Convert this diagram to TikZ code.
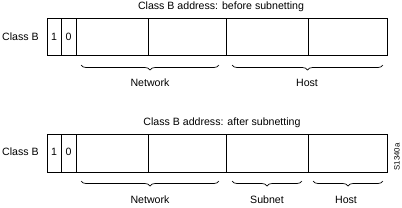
\documentclass[tikz,border=0pt]{standalone}
\usepackage{fontspec}
\setmainfont{Liberation Sans}
\usetikzlibrary{decorations.pathreplacing}
\begin{document}
\begin{tikzpicture}[x=1pt,y=-1pt,
  cell/.style={draw,line width=0.8pt},
  lbl/.style={font=\fontsize{10.6}{12}\selectfont,inner sep=0pt},
  bit/.style={font=\fontsize{10.6}{12}\selectfont,inner sep=0pt},
  brc/.style={decorate,decoration={brace,mirror,amplitude=5pt},line width=0.7pt}]
\useasboundingbox (0,0) rectangle (402,207);
% top box
\foreach \a/\b in {47/61,61/76,76/148,148/226,226/308,308/387}{
  \draw[cell] (\a,18) rectangle (\b,55);}
\node[lbl] (t1) at (221,7) {Class B address: before subnetting};
\node[lbl,anchor=west] (cb1) at (2,36.5) {Class B};
\node[bit] (one1) at (54,37) {1};
\node[bit] (zero1) at (68.5,37) {0};
\coordinate (n1a) at (81,65); \coordinate (n1b) at (219,65);
\coordinate (h1a) at (232,65); \coordinate (h1b) at (383,65);
\draw[brc] (n1a) -- (n1b);
\draw[brc] (h1a) -- (h1b);
\node[lbl] (net1) at (150,83) {Network};
\node[lbl] (host1) at (307,83) {Host};
% bottom box
\foreach \a/\b in {47/61,61/76,76/148,148/226,226/308,308/387}{
  \draw[cell] (\a,134) rectangle (\b,172);}
\node[lbl] (t2) at (222,122.5) {Class B address: after subnetting};
\node[lbl,anchor=west] (cb2) at (2,151.5) {Class B};
\node[bit] (one2) at (54,152) {1};
\node[bit] (zero2) at (68.5,152) {0};
\coordinate (n2a) at (81,181); \coordinate (n2b) at (219,181);
\coordinate (s2a) at (232,181); \coordinate (s2b) at (302,181);
\coordinate (h2a) at (313,181); \coordinate (h2b) at (383,181);
\draw[brc] (n2a) -- (n2b);
\draw[brc] (s2a) -- (s2b);
\draw[brc] (h2a) -- (h2b);
\node[lbl] (net2) at (150,200) {Network};
\node[lbl] (sub2) at (267,200) {Subnet};
\node[lbl] (host2) at (346,200) {Host};
\node[font=\fontsize{7.8}{9}\selectfont,inner sep=0pt,rotate=90] (id) at (397,157) {S1340a};
\end{tikzpicture}
\end{document}
